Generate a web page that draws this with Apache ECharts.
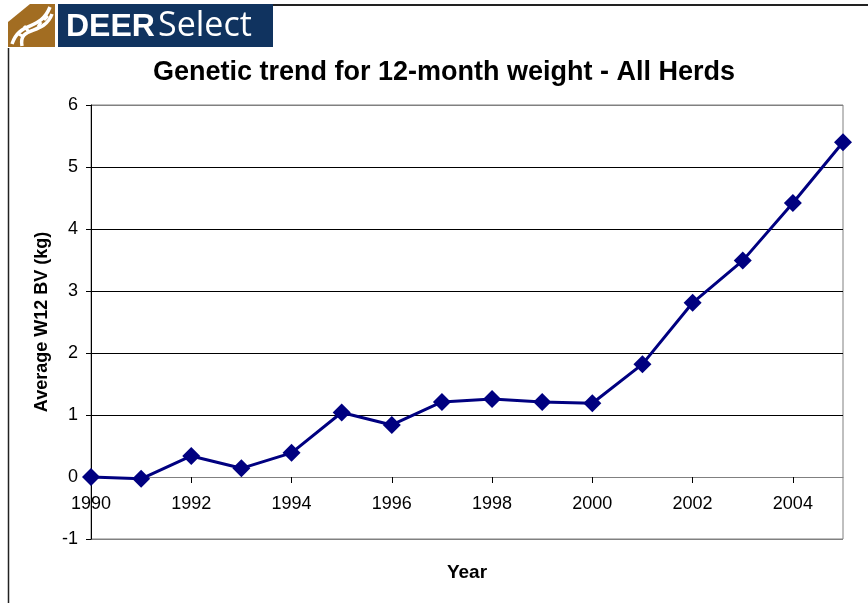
<!DOCTYPE html>
<html><head><meta charset="utf-8">
<script src="https://cdn.jsdelivr.net/npm/echarts@6/dist/echarts.min.js"></script>
<style>html,body{margin:0;padding:0;background:#fff}#c{width:868px;height:603px}</style>
</head><body><div id="c"></div>
<script>
const years = [1990,1991,1992,1993,1994,1995,1996,1997,1998,1999,2000,2001,2002,2003,2004,2005];
const w12BV = [0,-0.03,0.34,0.14,0.39,1.04,0.84,1.21,1.26,1.21,1.19,1.82,2.81,3.49,4.42,5.40];
const xTickLabels = [1990,1992,1994,1996,1998,2000,2002,2004];
const yTickLabels = [-1,0,1,2,3,4,5,6];
const titleText = 'Genetic trend for 12-month weight - All Herds';
const yName = 'Average W12 BV (kg)';
const xName = 'Year';

const chart = echarts.init(document.getElementById('c'), null, {renderer:'canvas'});
const F = 'Liberation Sans, Arial, Helvetica, sans-serif';
chart.setOption({
  animation:false,
  backgroundColor:'#fff',
  title:{text:titleText,left:148,top:54,textStyle:{fontFamily:F,fontSize:27,fontWeight:'bold',color:'#000'}},
  grid:{left:91,right:25,top:105,bottom:64,show:true,borderColor:'#808080',borderWidth:1,backgroundColor:'transparent',containLabel:false,outerBoundsMode:'none'},
  xAxis:[{type:'value',min:1990,max:2005,interval:2,
    axisLine:{onZero:true,lineStyle:{color:'#808080',width:1}},
    axisTick:{show:true,customValues:xTickLabels,length:6,lineStyle:{color:'#000'}},
    axisLabel:{show:false},
    splitLine:{show:false}},
   {type:'value',min:1990,max:2005,interval:2,position:'bottom',
    name:xName,nameLocation:'middle',nameGap:24,
    nameTextStyle:{fontFamily:F,fontSize:19,fontWeight:'bold',color:'#000'},
    axisLine:{show:false,onZero:false},
    axisTick:{show:false},
    axisLabel:{inside:true,customValues:xTickLabels,formatter:v=>String(v),margin:26,fontFamily:F,fontSize:18,color:'#000'},
    splitLine:{show:false}}],
  yAxis:{type:'value',min:-1,max:6,interval:1,
    name:yName,nameLocation:'middle',nameRotate:90,nameGap:40,
    nameTextStyle:{fontFamily:F,fontSize:18,fontWeight:'bold',color:'#000'},
    axisLine:{show:true,onZero:false,lineStyle:{color:'#000',width:1}},
    axisTick:{show:true,length:5,lineStyle:{color:'#000'}},
    axisLabel:{margin:13,formatter:v=>String(v),fontFamily:F,fontSize:18,color:'#000'},
    splitLine:{show:true,lineStyle:{color:['#808080','#808080','#000','#000','#000','#000','#000','#808080'],width:1}}},
  series:[{type:'line',xAxisIndex:0,data:years.map((y,i)=>[y,w12BV[i]]),
    lineStyle:{color:'#000080',width:3},itemStyle:{color:'#000080'},
    symbol:'diamond',symbolSize:18,showSymbol:true,z:5}],
  graphic:[
    {type:'line',shape:{x1:273,y1:5,x2:868,y2:5},style:{stroke:'#222',lineWidth:2}},
    {type:'line',shape:{x1:8.5,y1:48,x2:8.5,y2:603},style:{stroke:'#222',lineWidth:1.5}},
    {type:'rect',shape:{x:8,y:4,width:47,height:43},style:{fill:'#a26d22'}},
    {type:'polygon',shape:{points:[[8,4],[30,4],[8,22]]},style:{fill:'#fff'}},
    {type:'bezierCurve',shape:{x1:12,y1:44,x2:50,y2:7,cpx1:20,cpy1:20,cpx2:40,cpy2:32},style:{stroke:'#fff',lineWidth:3.5,fill:null}},
    {type:'bezierCurve',shape:{x1:22,y1:46,x2:52,y2:14,cpx1:18,cpy1:25,cpx2:44,cpy2:36},style:{stroke:'#fff',lineWidth:3.5,fill:null}},
    {type:'line',shape:{x1:17,y1:33,x2:24,y2:37},style:{stroke:'#fff',lineWidth:3}},
    {type:'line',shape:{x1:24,y1:26,x2:29,y2:32},style:{stroke:'#fff',lineWidth:3}},
    {type:'line',shape:{x1:38,y1:27,x2:41,y2:22},style:{stroke:'#fff',lineWidth:3}},
    {type:'line',shape:{x1:44,y1:20,x2:48,y2:16},style:{stroke:'#fff',lineWidth:3}},
    {type:'rect',shape:{x:58,y:4,width:215,height:43},style:{fill:'#10335f'}},
    {type:'text',left:66,top:11,style:{text:'DEER',fontFamily:F,fontSize:32,fontWeight:'bold',fill:'#fff'}},
    {type:'text',left:158,top:9,style:{text:'Select',fontFamily:'Open Sans, Liberation Sans, sans-serif',fontSize:34,fill:'#fff'}}
  ]
});
</script></body></html>
